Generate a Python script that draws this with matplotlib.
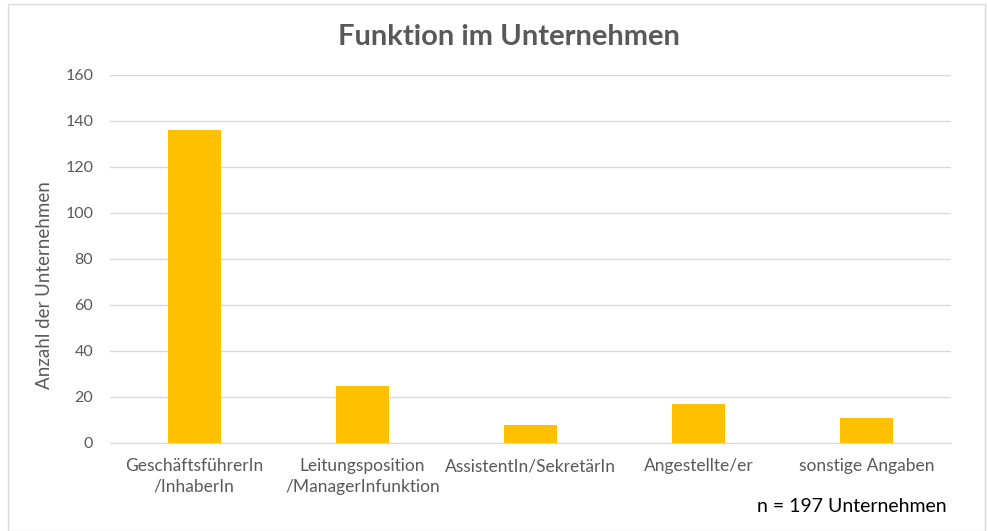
import matplotlib
matplotlib.use("Agg")
import matplotlib.pyplot as plt
from matplotlib.patches import Rectangle

categories = ["GeschäftsführerIn\n/InhaberIn", "Leitungsposition\n/ManagerInfunktion",
              "AssistentIn/SekretärIn", "Angestellte/er", "sonstige Angaben"]
values = [136, 25, 8, 17, 11]
yticks = [0, 20, 40, 60, 80, 100, 120, 140, 160]

plt.rcParams['font.family'] = ['Lato', 'DejaVu Sans']

fig = plt.figure(figsize=(9.88, 5.31), dpi=100)
fig.patches.append(Rectangle((8/988, 0), 977/988, 527/531, transform=fig.transFigure,
                             fill=False, edgecolor='#D9D9D9', linewidth=1))

ax = fig.add_axes([110/988, 1 - 443/531, 841/988, 368/531])
x = range(len(categories))
ax.bar(x, values, width=0.315, color='#FFC000', zorder=3)
ax.set_xlim(-0.5, len(categories) - 0.5)
ax.set_ylim(0, 160)
ax.set_yticks(yticks)
ax.set_xticks(list(x))
ax.set_xticklabels(categories, color='#595959', fontsize=12.5, linespacing=1.35)
ax.tick_params(axis='y', colors='#595959', labelsize=11.5, length=0, pad=12)
ax.tick_params(axis='x', length=0, pad=11)
ax.grid(axis='y', color='#D9D9D9', linewidth=1, zorder=0)
for s in ['top', 'right', 'left']:
    ax.spines[s].set_visible(False)
ax.spines['bottom'].set_color('#D9D9D9')
ax.set_ylabel('Anzahl der Unternehmen', color='#595959', fontsize=13.5)
ax.yaxis.set_label_coords(-57/841, 0.43)

fig.text(509/988, 1 - 37/531, 'Funktion im Unternehmen', ha='center', va='center',
         fontsize=21, fontweight='bold', color='#595959')
fig.text(947/988, 1 - 506/531, 'n = 197 Unternehmen', ha='right', va='center',
         fontsize=14, color='black')

fig.savefig('out.png', dpi=100)
